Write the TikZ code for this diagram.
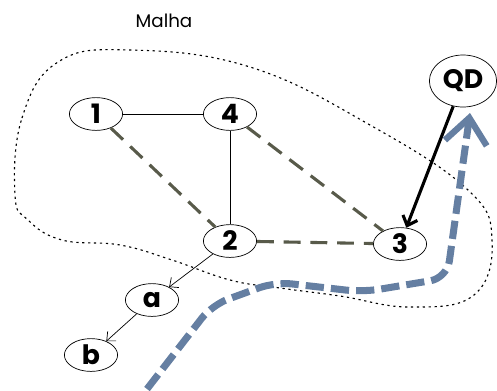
\documentclass[tikz,border=0pt]{standalone}
\usepackage{fontspec}
\setmainfont{Poppins}
\usetikzlibrary{shapes.geometric,arrows.meta}
\definecolor{fio}{RGB}{88,90,74}
\definecolor{rota}{RGB}{101,127,162}
\tikzset{
  vert/.style={ellipse,draw,line width=0.5pt,minimum width=1.33cm,minimum height=0.82cm,
    inner sep=0pt,font=\fontsize{19}{19}\selectfont\bfseries},
  enlace/.style={color=fio,line width=2.2pt,dash pattern=on 12pt off 7pt},
  liga/.style={line width=0.5pt},
}
\begin{document}
\begin{tikzpicture}[x=0.025cm,y=-0.025cm,line join=round,line cap=butt]
	\useasboundingbox (0,0) rectangle (497,390);
	\node (titulo) at (164,21) {\fontsize{13}{13}\selectfont Malha};
	% contorno da malha
	\draw[line width=0.8pt,dash pattern=on 1.6pt off 2.6pt] plot[smooth cycle,tension=0.7] coordinates
		{(15,195) (22,118) (58,62) (130,50) (250,67) (370,125) (468,190) (492,240) (474,295)
		(410,307) (340,296) (280,288) (230,280) (172,260) (120,245) (62,240) (28,220)};
	% rota
	\draw[rota,line width=5pt,dash pattern=on 13pt off 5pt,rounded corners=12pt,
		-{Straight Barb[length=18pt,width=30pt,line width=4.5pt]}]
		(147,389) -- (212,305) -- (275,282) -- (363,292) -- (447,278) -- (470,113);
	\foreach \n/\x/\y in {1/96/114,4/230/114,2/230/241,3/400/244,a/152/300,b/91/355}
		{\node[vert] (n\n) at (\x,\y) {\n};}
	\node[vert,minimum width=1.68cm,minimum height=1.3cm] (qd) at (463,81) {QD};
	\foreach \a/\b in {1/4,4/2} {\draw[liga] (n\a) -- (n\b);}
	\foreach \a/\b in {1/2,4/3,2/3} {\draw[enlace] (n\a) -- (n\b);}
	\foreach \a/\b in {2/a,a/b} {\draw[liga,-{Straight Barb[length=5pt,width=9pt]}] (n\a) -- (n\b);}
	\draw[line width=2.2pt,-{Straight Barb[length=6pt,width=11pt]}] (qd) -- (n3);
\end{tikzpicture}
\end{document}
